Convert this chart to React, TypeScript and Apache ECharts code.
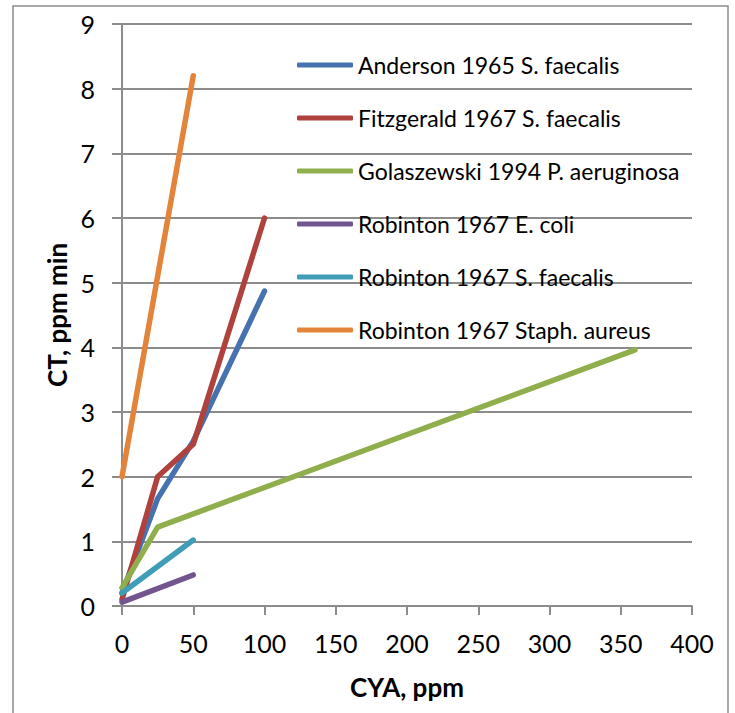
import React, { useEffect, useRef } from "react";
import * as echarts from "echarts";

const seriesNames = [
  "Anderson 1965 S. faecalis",
  "Fitzgerald 1967 S. faecalis",
  "Golaszewski 1994 P. aeruginosa",
  "Robinton 1967 E. coli",
  "Robinton 1967 S. faecalis",
  "Robinton 1967 Staph. aureus",
];

const andersonX = [0, 25, 50, 100];
const andersonY = [0.2, 1.66, 2.55, 4.87];
const fitzgeraldX = [0, 25, 50, 100];
const fitzgeraldY = [0.1, 2.0, 2.5, 6.0];
const golaszewskiX = [0, 25, 360];
const golaszewskiY = [0.28, 1.22, 3.96];
const robintonEcoliX = [0, 50];
const robintonEcoliY = [0.06, 0.48];
const robintonSfaecalisX = [0, 50];
const robintonSfaecalisY = [0.2, 1.02];
const robintonStaphX = [0, 50];
const robintonStaphY = [2.0, 8.2];

const colors = ["#4672B0", "#B0423E", "#8FAE4C", "#72558F", "#3F9DB8", "#E3843A"];

const xTicks = [0, 50, 100, 150, 200, 250, 300, 350, 400];
const yTicks = [0, 1, 2, 3, 4, 5, 6, 7, 8, 9];

const pairs = (xs: number[], ys: number[]) => xs.map((x, i) => [x, ys[i]]);

export default function App() {
  const ref = useRef<HTMLDivElement>(null);
  useEffect(() => {
    if (!ref.current) return;
    const chart = echarts.init(ref.current, null, { renderer: "svg" });
    const allData = [
      pairs(andersonX, andersonY),
      pairs(fitzgeraldX, fitzgeraldY),
      pairs(golaszewskiX, golaszewskiY),
      pairs(robintonEcoliX, robintonEcoliY),
      pairs(robintonSfaecalisX, robintonSfaecalisY),
      pairs(robintonStaphX, robintonStaphY),
    ];
    const grey = "#8C8C8C";
    chart.setOption({
      animation: false,
      color: colors,
      textStyle: { fontFamily: "Lato" },
      grid: { left: 122, right: 43, top: 24, bottom: 107 },
      graphic: [
        {
          type: "rect",
          shape: { x: 13, y: 6, width: 715, height: 720 },
          style: { fill: "none", stroke: grey, lineWidth: 1.5 },
          silent: true,
          z: -1,
        },
      ],
      legend: {
        orient: "vertical",
        left: 297,
        top: 53,
        padding: 0,
        icon: "roundRect",
        itemWidth: 56,
        itemHeight: 5,
        itemGap: 29,
        data: seriesNames,
        textStyle: { fontFamily: "Lato", fontSize: 23, color: "#000", lineHeight: 24 },
      },
      xAxis: {
        type: "value",
        min: xTicks[0],
        max: xTicks[xTicks.length - 1],
        interval: 50,
        name: "CYA, ppm",
        nameLocation: "middle",
        nameGap: 68,
        nameTextStyle: { fontFamily: "Lato", fontWeight: "bold", fontSize: 26, color: "#000" },
        axisLine: { show: true, lineStyle: { color: grey, width: 2 } },
        axisTick: { show: true, inside: false, length: 9, lineStyle: { color: grey, width: 2 } },
        axisLabel: { fontFamily: "Lato", fontSize: 25, color: "#000", margin: 24 },
        splitLine: { show: false },
      },
      yAxis: {
        type: "value",
        min: yTicks[0],
        max: yTicks[yTicks.length - 1],
        interval: 1,
        name: "CT, ppm min",
        nameLocation: "middle",
        nameGap: 43,
        nameTextStyle: { fontFamily: "Lato", fontWeight: "bold", fontSize: 26, color: "#000" },
        axisLine: { show: true, lineStyle: { color: grey, width: 2 } },
        axisTick: { show: true, inside: false, length: 10, lineStyle: { color: grey, width: 2 } },
        axisLabel: { fontFamily: "Lato", fontSize: 25, color: "#000", margin: 27 },
        splitLine: { show: true, lineStyle: { color: grey, width: 2 } },
      },
      series: seriesNames.map((name, i) => ({
        name,
        type: "line",
        data: allData[i],
        symbol: "none",
        showSymbol: false,
        lineStyle: { width: 5.5, cap: "round", join: "round", color: colors[i] },
        itemStyle: { color: colors[i] },
      })),
    });
    return () => chart.dispose();
  }, []);
  return (
    <div
      ref={ref}
      style={{ position: "absolute", left: 0, top: 0, width: 735, height: 713, background: "#fff" }}
    />
  );
}
